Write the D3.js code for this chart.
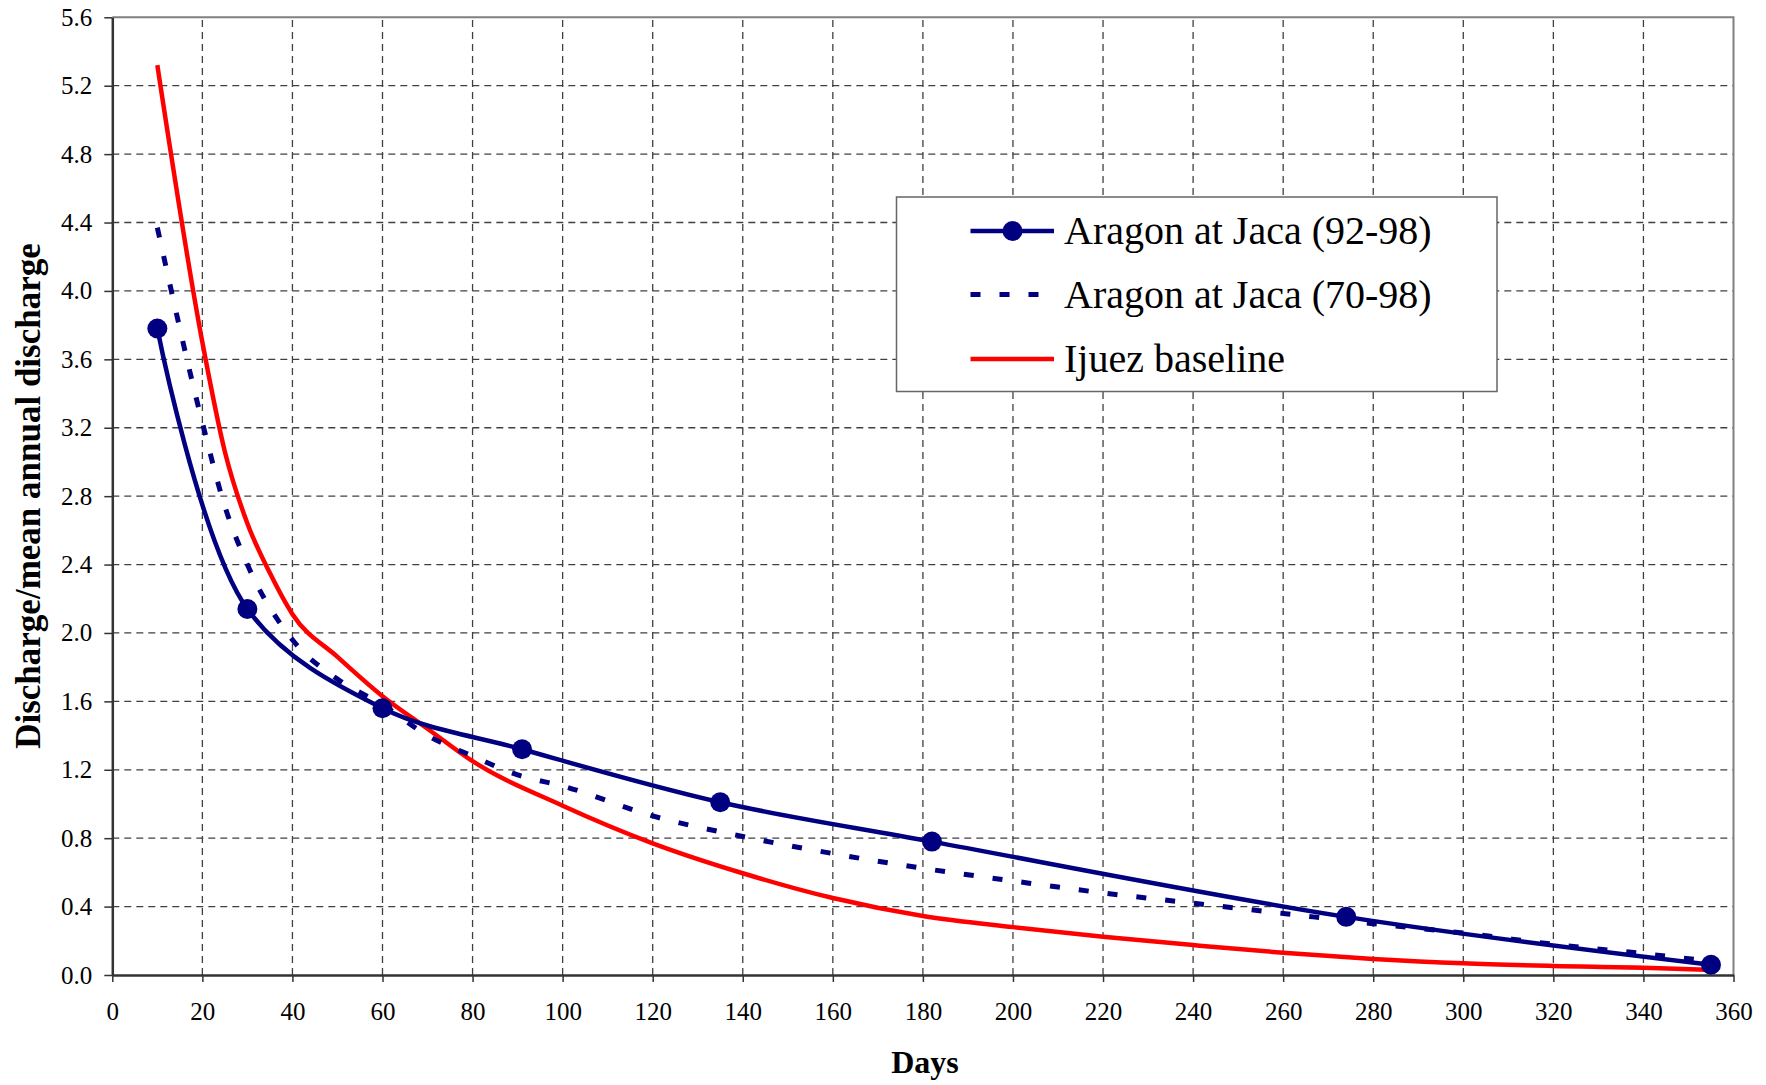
<!DOCTYPE html>
<html>
<head>
<meta charset="utf-8">
<script src="https://cdn.jsdelivr.net/npm/d3@7"></script>
<style>
    body { margin: 0; background: #fff; }
    svg { display: block; font-family: "Liberation Serif", "Times New Roman", serif; }
</style>
</head>
<body>
<div id="chart"></div>
<script>
// tick values
var xTicks = [0, 20, 40, 60, 80, 100, 120, 140, 160, 180, 200, 220, 240, 260, 280, 300, 320, 340, 360];
var yTicks = [0, 0.4, 0.8, 1.2, 1.6, 2.0, 2.4, 2.8, 3.2, 3.6, 4.0, 4.4, 4.8, 5.2, 5.6];

// Aragon at Jaca (92-98), with markers
var days92 = [10, 30, 60, 91, 135, 182, 274, 355];
var aragon92 = [3.78, 2.14, 1.56, 1.32, 1.01, 0.78, 0.34, 0.06];

// Aragon at Jaca (70-98), dashed
var days70 = [10, 20, 25, 30, 40, 50, 60, 70, 80, 90, 100, 120, 140, 160, 180, 200, 220, 240, 260, 280, 300, 320, 340, 355];
var aragon70 = [4.37, 3.23, 2.74, 2.40, 1.96, 1.73, 1.58, 1.40, 1.28, 1.17, 1.105, 0.93, 0.81, 0.71, 0.624, 0.55, 0.48, 0.42, 0.36, 0.30, 0.245, 0.18, 0.125, 0.08];

// Ijuez baseline
var daysIj = [10, 20, 25, 30, 35, 40, 50, 60, 70, 80, 100, 120, 140, 160, 180, 200, 220, 240, 260, 280, 300, 320, 340, 354];
var ijuez = [5.32, 3.70, 3.06, 2.64, 2.35, 2.11, 1.86, 1.63, 1.44, 1.25, 0.99, 0.77, 0.595, 0.45, 0.345, 0.28, 0.224, 0.175, 0.13, 0.094, 0.068, 0.053, 0.043, 0.03];

var seriesNames = ["Aragon at Jaca (92-98)", "Aragon at Jaca (70-98)", "Ijuez baseline"];
var navy = "#000080", red = "#ff0000";
var serif = "'Liberation Serif', 'Times New Roman', serif";

var width = 1766, height = 1085;
var margin = {left: 112.3, right: 32.5, top: 17.3, bottom: 110};

var svg = d3.select("#chart").append("svg")
    .attr("width", width)
    .attr("height", height)
    .attr("font-family", serif);

var x = d3.scaleLinear().domain([0, 360]).range([margin.left, width - margin.right]);
var y = d3.scaleLinear().domain([0, 5.6]).range([height - margin.bottom, margin.top]);

// grid
svg.append("g").selectAll("line")
    .data(yTicks.filter(function(d) { return d > 0 && d < 5.6; }))
    .enter().append("line")
    .attr("x1", x(0)).attr("x2", x(360))
    .attr("y1", function(d) { return y(d); })
    .attr("y2", function(d) { return y(d); })
    .attr("stroke", "#404040").attr("stroke-width", 1.3)
    .attr("stroke-dasharray", "7,5");

svg.append("g").selectAll("line")
    .data(xTicks.filter(function(d) { return d > 0 && d < 360; }))
    .enter().append("line")
    .attr("y1", y(0)).attr("y2", y(5.6))
    .attr("x1", function(d) { return x(d); })
    .attr("x2", function(d) { return x(d); })
    .attr("stroke", "#404040").attr("stroke-width", 1.3)
    .attr("stroke-dasharray", "7,5");

// top + right border
svg.append("path")
    .attr("d", "M" + x(0) + "," + y(5.6) + "H" + x(360) + "V" + y(0))
    .attr("fill", "none").attr("stroke", "#808080").attr("stroke-width", 2);

// axes
var yAxis = d3.axisLeft(y).tickValues(yTicks).tickFormat(d3.format(".1f"))
    .tickSize(8).tickSizeOuter(0).tickPadding(12);
var xAxis = d3.axisBottom(x).tickValues(xTicks).tickFormat(d3.format("d"))
    .tickSize(7).tickSizeOuter(0).tickPadding(20);

var gy = svg.append("g").attr("transform", "translate(" + x(0) + ",0)").call(yAxis);
var gx = svg.append("g").attr("transform", "translate(0," + y(0) + ")").call(xAxis);

[gx, gy].forEach(function(g) {
    g.attr("font-family", serif).attr("font-size", 25);
    g.select(".domain").attr("stroke", "#333").attr("stroke-width", 2.5);
    g.selectAll(".tick line").attr("stroke", "#333").attr("stroke-width", 1.5);
    g.selectAll(".tick text").attr("fill", "#000");
});

// legend box
var legend = svg.append("g");
legend.append("rect")
    .attr("x", 896.5).attr("y", 197).attr("width", 600.5).attr("height", 194.5)
    .attr("fill", "#fff").attr("stroke", "#666").attr("stroke-width", 1.5);

// series
var line = d3.line()
    .x(function(d) { return x(d[0]); })
    .y(function(d) { return y(d[1]); })
    .curve(d3.curveCatmullRom.alpha(0.5));

var smooth = d3.line()
    .x(function(d) { return x(d[0]); })
    .y(function(d) { return y(d[1]); })
    .curve(d3.curveMonotoneX);

svg.append("path")
    .datum(d3.zip(daysIj, ijuez))
    .attr("d", smooth)
    .attr("fill", "none").attr("stroke", red).attr("stroke-width", 4.5);

svg.append("path")
    .datum(d3.zip(days70, aragon70))
    .attr("d", smooth)
    .attr("fill", "none").attr("stroke", navy).attr("stroke-width", 5)
    .attr("stroke-dasharray", "10,19");

svg.append("path")
    .datum(d3.zip(days92, aragon92))
    .attr("d", line)
    .attr("fill", "none").attr("stroke", navy).attr("stroke-width", 4.5);

svg.append("g").selectAll("circle")
    .data(d3.zip(days92, aragon92))
    .enter().append("circle")
    .attr("cx", function(d) { return x(d[0]); })
    .attr("cy", function(d) { return y(d[1]); })
    .attr("r", 10)
    .attr("fill", navy);

// legend entries
var rows = [231, 294.5, 359];
var styles = [
    {stroke: navy, dash: null, marker: true, w: 4.5},
    {stroke: navy, dash: "10,19", marker: false, w: 5},
    {stroke: red, dash: null, marker: false, w: 4.5}
];
seriesNames.forEach(function(name, i) {
    legend.append("line")
        .attr("x1", 970.5).attr("x2", 1054)
        .attr("y1", rows[i]).attr("y2", rows[i])
        .attr("stroke", styles[i].stroke)
        .attr("stroke-width", styles[i].w)
        .attr("stroke-dasharray", styles[i].dash);
    if (styles[i].marker) {
        legend.append("circle")
            .attr("cx", 1012.5).attr("cy", rows[i]).attr("r", 10)
            .attr("fill", navy);
    }
    legend.append("text")
        .attr("x", 1064).attr("y", rows[i] + 13)
        .attr("font-size", 40)
        .text(name);
});

// axis titles
svg.append("text")
    .attr("x", 925).attr("y", 1073)
    .attr("text-anchor", "middle")
    .attr("font-size", 32).attr("font-weight", "bold")
    .text("Days");

svg.append("text")
    .attr("text-anchor", "middle")
    .attr("transform", "translate(40,496)rotate(-90)")
    .attr("font-size", 35).attr("font-weight", "bold")
    .text("Discharge/mean annual discharge");
</script>
</body>
</html>
